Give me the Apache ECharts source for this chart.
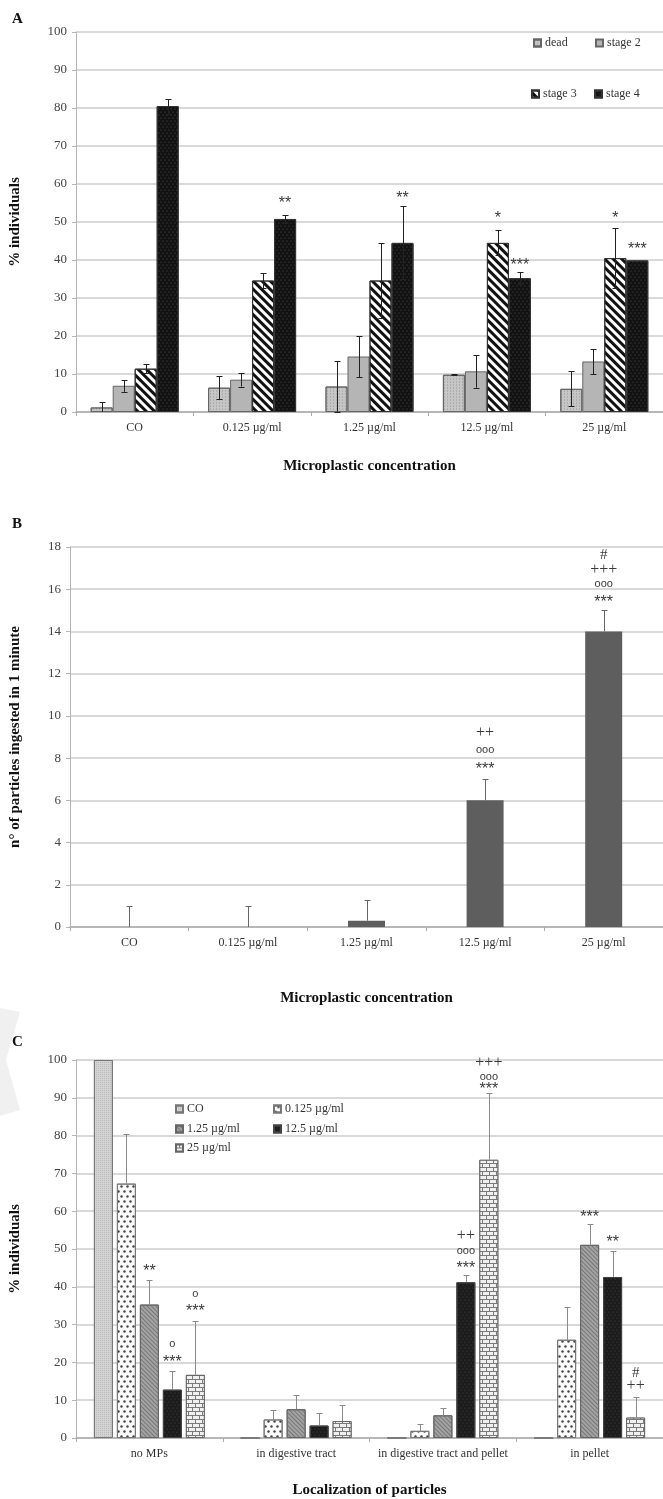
<!DOCTYPE html>
<html>
<head>
<meta charset="utf-8">
<script src="https://cdn.jsdelivr.net/npm/echarts@6.0.0/dist/echarts.min.js"></script>
<style>
  html, body { margin: 0; padding: 0; background: #fff; }
  #chart { width: 663px; height: 1499px; }
</style>
</head>
<body>
<div id="chart"></div>
<script>
const SERIF = '"Liberation Serif", "DejaVu Serif", serif';
const SANS = '"Liberation Sans", "DejaVu Sans", sans-serif';

// ---- panel A: development stages
const categoriesA = ['CO', '0.125 µg/ml', '1.25 µg/ml', '12.5 µg/ml', '25 µg/ml'];
const stagesA = ['dead', 'stage 2', 'stage 3', 'stage 4'];
const deadA = [1.2, 6.4, 6.7, 9.8, 6.1];
const deadErrA = [1.4, 3.1, 6.6, 0.1, 4.6];
const stage2A = [6.9, 8.5, 14.6, 10.7, 13.3];
const stage2ErrA = [1.6, 1.8, 5.5, 4.3, 3.3];
const stage3A = [11.4, 34.6, 34.6, 44.5, 40.5];
const stage3ErrA = [1.2, 2.0, 9.8, 3.3, 7.8];
const stage4A = [80.5, 50.8, 44.5, 35.2, 39.9];
const stage4ErrA = [2.0, 1.0, 9.6, 1.6, 0];
// [category, series, y] + text
const sigPosA = [[1, 3, 55.6], [2, 3, 57.0], [3, 2, 51.6], [3, 3, 39.4], [4, 2, 51.6], [4, 3, 43.6]];
const sigTextA = ['**', '**', '*', '***', '*', '***'];

// ---- panel B: particles ingested
const categoriesB = ['CO', '0.125 µg/ml', '1.25 µg/ml', '12.5 µg/ml', '25 µg/ml'];
const ingestedB = [0, 0, 0.3, 6, 14];
const ingestedErrB = [1, 1, 1, 1, 1];
const sigPosB = [[3, 0, 7.6], [3, 0, 8.4], [3, 0, 9.2], [4, 0, 15.5], [4, 0, 16.25], [4, 0, 16.9], [4, 0, 17.6]];
const sigTextB = ['***', 'ooo', '++', '***', 'ooo', '+++', '#'];

// ---- panel C: localization
const categoriesC = ['no MPs', 'in digestive tract', 'in digestive tract and pellet', 'in pellet'];
const concC = ['CO', '0.125 µg/ml', '1.25 µg/ml', '12.5 µg/ml', '25 µg/ml'];
const coC = [100, 0, 0, 0];
const coErrC = [0, 0, 0, 0];
const c0125 = [67.3, 4.9, 1.9, 26.0];
const c0125Err = [13.0, 2.5, 1.7, 8.7];
const c125 = [35.3, 7.6, 6.0, 51.1];
const c125Err = [6.4, 3.7, 2.0, 5.4];
const c12_5 = [12.8, 3.3, 41.2, 42.6];
const c12_5Err = [5.0, 3.4, 1.9, 6.9];
const c25 = [16.7, 4.5, 73.6, 5.4];
const c25Err = [14.3, 4.2, 17.6, 5.4];
const sigPosC = [
  [0, 2, 44.7], [0, 3, 20.8], [0, 3, 25.0], [0, 4, 34.3], [0, 4, 38.0],
  [2, 3, 45.5], [2, 3, 49.4], [2, 3, 53.4], [2, 4, 92.9], [2, 4, 95.6], [2, 4, 99.2],
  [3, 2, 59.0], [3, 3, 52.4], [3, 4, 13.7], [3, 4, 17.1]
];
const sigTextC = ['**', '***', 'o', '***', 'o', '***', 'ooo', '++', '***', 'ooo', '+++', '***', '**', '++', '#'];

const chart = echarts.init(document.getElementById('chart'));

// patterns
const stylesA = [
  { color: '#c6c6c6', borderColor: '#666', borderWidth: 1,
    decal: { symbol: 'rect', dashArrayX: [1, 2], dashArrayY: [2, 1], color: 'rgba(0,0,0,0.12)' } },
  { color: '#b5b5b5', borderColor: '#666', borderWidth: 1 },
  { color: '#fff', borderColor: '#333', borderWidth: 1,
    decal: { symbol: 'rect', dashArrayX: [1, 0], dashArrayY: [2.5, 2.5], rotation: Math.PI / 4, color: '#111' } },
  { color: '#121212', borderColor: '#333', borderWidth: 1,
    decal: { symbol: 'circle', symbolSize: 0.6, dashArrayX: [[2, 2], [0, 2, 2, 0]], dashArrayY: [2, 1], color: '#555' } }
];
const stylesC = [
  { color: '#d4d4d4', borderColor: '#777', borderWidth: 1,
    decal: { symbol: 'rect', dashArrayX: [1, 1], dashArrayY: [1, 1], color: 'rgba(0,0,0,0.12)' } },
  { color: '#fafafa', borderColor: '#777', borderWidth: 1,
    decal: { symbol: 'circle', symbolSize: 0.8, dashArrayX: [[3, 3], [0, 3, 3, 0]], dashArrayY: [3, 2], color: '#444' } },
  { color: '#a3a3a3', borderColor: '#666', borderWidth: 1,
    decal: { symbol: 'rect', dashArrayX: [1, 0], dashArrayY: [1, 2], rotation: Math.PI / 4, color: '#777' } },
  { color: '#1c1c1c', borderColor: '#444', borderWidth: 1,
    decal: { symbol: 'circle', symbolSize: 0.6, dashArrayX: [[2, 2], [0, 2, 2, 0]], dashArrayY: [2, 1], color: '#4a4a4a' } },
  { color: '#7a7a7a', borderColor: '#666', borderWidth: 1,
    decal: { symbol: 'rect', symbolSize: 1, dashArrayX: [[6, 1], [3, 1, 3, 0]], dashArrayY: [3, 1], color: '#f0f0f0' } }
];

function errorSeries(axis, values, errors, step, both, color, cap) {
  const items = [];
  values.forEach((vals, s) => vals.forEach((v, c) => items.push([c, s, v, errors[s][c]])));
  const n = values.length;
  return {
    type: 'custom', xAxisIndex: axis, yAxisIndex: axis, z: 5, silent: true,
    encode: { x: 0, y: 2 },
    data: items,
    renderItem(params, api) {
      const c = api.value(0), s = api.value(1), v = api.value(2), e = api.value(3);
      if (!e) return;
      const x = Math.round(api.coord([c, v])[0] + (s - (n - 1) / 2) * step) + 0.5;
      const yTop = Math.round(api.coord([c, v + e])[1]) + 0.5;
      const yBot = api.coord([c, both ? Math.max(v - e, 0) : v])[1];
      const ls = { stroke: color, lineWidth: 1 };
      const kids = [
        { type: 'line', shape: { x1: x, y1: yTop, x2: x, y2: yBot }, style: ls },
        { type: 'line', shape: { x1: x - cap, y1: yTop, x2: x + cap, y2: yTop }, style: ls }
      ];
      if (both && v - e > 0) {
        kids.push({ type: 'line', shape: { x1: x - cap, y1: Math.round(yBot) + 0.5, x2: x + cap, y2: Math.round(yBot) + 0.5 }, style: ls });
      }
      return { type: 'group', children: kids };
    }
  };
}

function sigSeries(axis, pos, texts, n, step) {
  return {
    type: 'custom', xAxisIndex: axis, yAxisIndex: axis, z: 6, silent: true,
    encode: { x: 0, y: 2 },
    data: pos,
    renderItem(params, api) {
      const p = api.coord([api.value(0), api.value(2)]);
      const t = texts[params.dataIndex];
      // asterisks sit high in the glyph box, push them down a bit
      let font = '16px ' + SANS, dy = 3;
      if (t[0] === 'o') { font = '11px ' + SANS; dy = 0; }
      if (t[0] === '+') { font = '16px ' + SERIF; dy = 0; }
      if (t[0] === '#') { font = '15px ' + SERIF; dy = 0; }
      return {
        type: 'text',
        x: p[0] + (api.value(1) - (n - 1) / 2) * step,
        y: p[1] + dy,
        style: { text: t, fill: '#3a3a3a', font: font, align: 'center', verticalAlign: 'middle' }
      };
    }
  };
}

function yAxis(grid, max, interval, name, gap) {
  return {
    type: 'value', gridIndex: grid, min: 0, max: max, interval: interval,
    name: name, nameLocation: 'middle', nameGap: gap,
    nameTextStyle: { fontFamily: SERIF, fontWeight: 'bold', fontSize: 15, color: '#111' },
    axisLine: { show: true, lineStyle: { color: '#b5b5b5' } },
    axisTick: { show: true, length: 4, lineStyle: { color: '#b5b5b5' } },
    axisLabel: { fontFamily: SERIF, fontSize: 13, color: '#444', margin: 9 },
    splitLine: { lineStyle: { color: '#cdcdcd', width: 1.5 } }
  };
}

function xAxis(grid, cats, name, gap) {
  return {
    type: 'category', gridIndex: grid, data: cats,
    name: name, nameLocation: 'middle', nameGap: gap,
    nameTextStyle: { fontFamily: SERIF, fontWeight: 'bold', fontSize: 15, color: '#111' },
    axisLine: { lineStyle: { color: '#aaa', width: 1.5 } },
    axisTick: { show: true, length: 4, lineStyle: { color: '#aaa' } },
    axisLabel: { fontFamily: SERIF, fontSize: 12, color: '#333', margin: 10, interval: 0 }
  };
}

function legendItem(name, left, top) {
  return {
    data: [name], left: left, top: top, padding: 0, icon: 'rect',
    itemWidth: 7, itemHeight: 7, itemGap: 0, selectedMode: false,
    textStyle: { fontFamily: SERIF, fontSize: 12, color: '#333', padding: [0, 0, 0, -1] }
  };
}

const valuesA = [deadA, stage2A, stage3A, stage4A];
const errorsA = [deadErrA, stage2ErrA, stage3ErrA, stage4ErrA];
const valuesC = [coC, c0125, c125, c12_5, c25];
const errorsC = [coErrC, c0125Err, c125Err, c12_5Err, c25Err];

const series = [];
stagesA.forEach((name, i) => series.push({
  type: 'bar', name: name, xAxisIndex: 0, yAxisIndex: 0, data: valuesA[i],
  barWidth: 22, barGap: '0%', itemStyle: stylesA[i]
}));
series.push(errorSeries(0, valuesA, errorsA, 22, true, '#222', 3));
series.push(sigSeries(0, sigPosA, sigTextA, 4, 22));

series.push({
  type: 'bar', name: 'ingested', xAxisIndex: 1, yAxisIndex: 1, data: ingestedB,
  barWidth: 37, itemStyle: { color: '#5e5e5e' }
});
series.push(errorSeries(1, [ingestedB], [ingestedErrB], 0, false, '#666', 3));
series.push(sigSeries(1, sigPosB, sigTextB, 1, 0));

concC.forEach((name, i) => series.push({
  type: 'bar', name: name, xAxisIndex: 2, yAxisIndex: 2, data: valuesC[i],
  barWidth: 19, barGap: '21%', itemStyle: stylesC[i]
}));
series.push(errorSeries(2, valuesC, errorsC, 23, false, '#8a8a8a', 3));
series.push(sigSeries(2, sigPosC, sigTextC, 5, 23));

chart.setOption({
  animation: false,
  grid: [
    { left: 71, top: 32, width: 597, height: 380 },
    { left: 64, top: 547, width: 605, height: 380 },
    { left: 71, top: 1060, width: 596, height: 380 }
  ],
  xAxis: [
    xAxis(0, categoriesA, 'Microplastic concentration', 47),
    xAxis(1, categoriesB, 'Microplastic concentration', 64),
    xAxis(2, categoriesC, 'Localization of particles', 45)
  ],
  yAxis: [
    yAxis(0, 100, 10, '% individuals', 53),
    yAxis(1, 18, 2, 'n° of particles ingested in 1 minute', 47),
    yAxis(2, 100, 10, '% individuals', 53)
  ],
  legend: [
    legendItem('dead', 533, 37),
    legendItem('stage 2', 595, 37),
    legendItem('stage 3', 531, 88),
    legendItem('stage 4', 594, 88),
    legendItem('CO', 175, 1103),
    legendItem('0.125 µg/ml', 273, 1103),
    legendItem('1.25 µg/ml', 175, 1123),
    legendItem('12.5 µg/ml', 273, 1123),
    legendItem('25 µg/ml', 175, 1142)
  ],
  graphic: [
    { type: 'text', left: 12, top: 12, style: { text: 'A', font: 'bold 15px ' + SERIF, fill: '#111' } },
    { type: 'text', left: 12, top: 517, style: { text: 'B', font: 'bold 15px ' + SERIF, fill: '#111' } },
    { type: 'text', left: 12, top: 1035, style: { text: 'C', font: 'bold 15px ' + SERIF, fill: '#111' } },
    { type: 'polygon', shape: { points: [[0, 1008], [20, 1012], [6, 1060], [20, 1110], [0, 1116]] },
      style: { fill: '#f0f0f0' }, z: -1 }
  ],
  series: series
});
</script>
</body>
</html>
